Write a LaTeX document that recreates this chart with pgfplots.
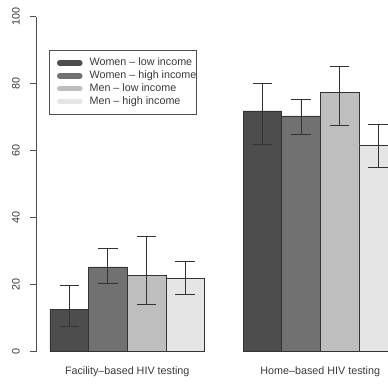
\documentclass[border=0pt]{standalone}
\usepackage{fontspec}
\setmainfont{Liberation Sans}
\usepackage{pgfplots}
\pgfplotsset{compat=1.18}
\definecolor{cA}{HTML}{4D4D4D}
\definecolor{cB}{HTML}{717171}
\definecolor{cC}{HTML}{BEBEBE}
\definecolor{cD}{HTML}{E5E5E5}
\definecolor{axc}{HTML}{505050}
\definecolor{txt}{HTML}{3A3A3A}
\definecolor{errc}{HTML}{333333}
\pgfplotsset{
  myerr/.style={
    error bars/.cd, y dir=both, y explicit,
    error bar style={draw=errc, line width=0.8bp},
    error mark options={rotate=90, draw=errc, line width=0.8bp, mark size=9.7bp},
    /pgfplots/.cd,
  },
}
\newcommand{\swatch}[1]{\path[draw=none, fill=none] (-10.15bp,-4bp) rectangle (29.85bp,4bp);
  \draw[line width=5.5bp, line cap=round, draw=#1, fill=none] (0bp,0bp) -- (20.1bp,0bp);}
\begin{document}
\begin{tikzpicture}
\begin{axis}[
  x=38.6bp, y=3.35bp,
  xmin=0.637, xmax=9.7565, ymin=0, ymax=100,
  clip=false,
  axis y line*=left, axis x line*=bottom,
  x axis line style={draw=none},
  y axis line style={draw=axc, line width=0.7bp, -},
  ytick={0,20,40,60,80,100},
  tick align=outside,
  major tick length=6bp,
  ytick style={draw=axc, line width=0.7bp},
  xtick={3,8},
  xticklabels={Facility--based HIV testing, Home--based HIV testing},
  xtick style={draw=none},
  xticklabel style={anchor=base, yshift=-17.3bp, font=\fontsize{10.8}{12}\selectfont, text=txt},
  yticklabel style={rotate=90, anchor=south, inner sep=0pt, yshift=10bp, font=\fontsize{10.8}{12}\selectfont, text=txt},
  /pgf/number format/assume math mode=true,
  bar width=1,
  legend cell align=left,
  legend style={at={(0.0378,0.9006)}, anchor=north west, draw=axc, line width=0.6bp, fill=white,
    inner xsep=0bp, inner ysep=7.5bp, row sep=2.3bp,
    font=\fontsize{10.8}{12}\selectfont, text=txt,
    nodes={inner sep=0pt, text height=8bp, text depth=2.5bp}},
]
\addlegendimage{legend image code/.code={\swatch{cA}}}
\addlegendentry{Women -- low income}
\addlegendimage{legend image code/.code={\swatch{cB}}}
\addlegendentry{Women -- high income}
\addlegendimage{legend image code/.code={\swatch{cC}}}
\addlegendentry{Men -- low income}
\addlegendimage{legend image code/.code={\swatch{cD}}}
\addlegendentry{Men -- high income}
\addplot[ybar, bar shift=0pt, fill=cA, draw=black!80, line width=0.6bp, forget plot, myerr]
  coordinates {(1.5,12.66) +=(0,7.24) -=(0,5.06) (6.5,71.9) +=(0,8.3) -=(0,9.9)};
\addplot[ybar, bar shift=0pt, fill=cB, draw=black!80, line width=0.6bp, forget plot, myerr]
  coordinates {(2.5,25.3) +=(0,5.66) -=(0,4.9) (7.5,70.4) +=(0,4.8) -=(0,5.4)};
\addplot[ybar, bar shift=0pt, fill=cC, draw=black!80, line width=0.6bp, forget plot, myerr]
  coordinates {(3.5,22.8) +=(0,11.7) -=(0,8.6) (8.5,77.4) +=(0,7.7) -=(0,9.8)};
\addplot[ybar, bar shift=0pt, fill=cD, draw=black!80, line width=0.6bp, forget plot, myerr]
  coordinates {(4.5,21.8) +=(0,5.2) -=(0,4.7) (9.5,61.7) +=(0,6.1) -=(0,6.8)};
\coordinate (bl) at (axis cs:-0.2953,-9.64);
\coordinate (tr) at (axis cs:9.7565,104.985);
\end{axis}
\pgfresetboundingbox
\useasboundingbox (bl) rectangle (tr);
\end{tikzpicture}
\end{document}
